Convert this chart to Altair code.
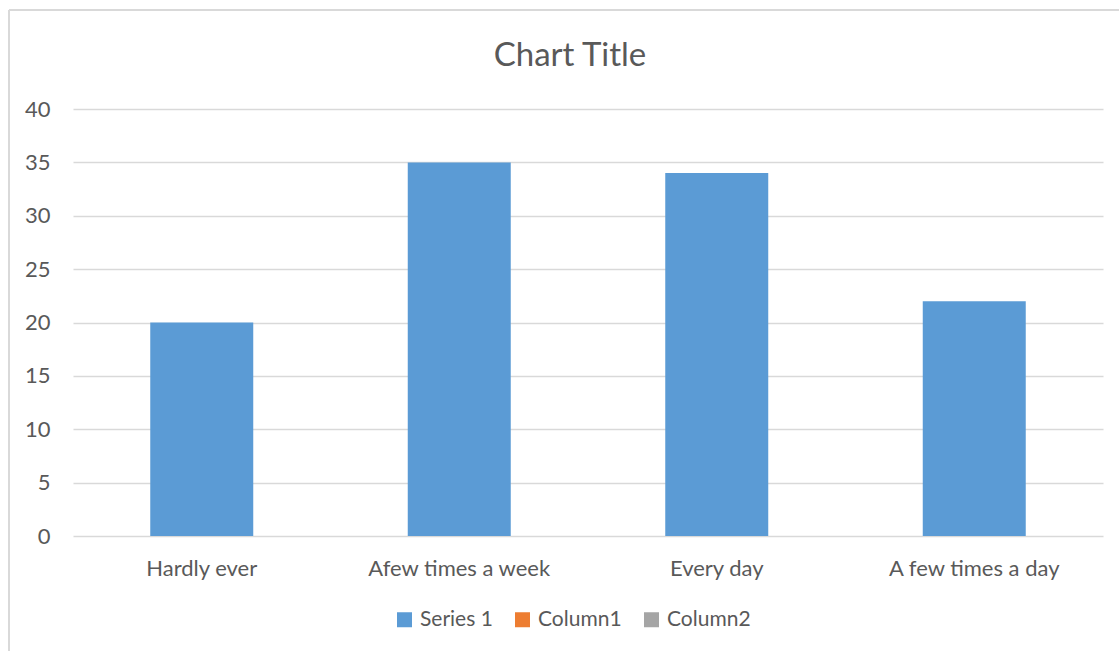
import altair as alt
import pandas as pd

categories = ["Hardly ever", "Afew times a week", "Every day", "A few times a day"]
values = [20, 35, 34, 22]
series_names = ["Series 1", "Column1", "Column2"]
series_colors = ["#5b9bd5", "#ed7d31", "#a5a5a5"]

df = pd.DataFrame({"category": categories, "value": values, "series": ["Series 1"] * len(categories)})

FONT = "Lato"
TXT = "#595959"

bars = alt.Chart(df).mark_bar().encode(
    x=alt.X("category:N", sort=categories, title=None,
            scale=alt.Scale(paddingInner=0.6, paddingOuter=0.3),
            axis=alt.Axis(labelAngle=0, labelFontSize=22, labelColor=TXT, labelFont=FONT,
                          labelLimit=0, domain=False, ticks=False, labelPadding=22, grid=False)),
    y=alt.Y("value:Q", title=None,
            scale=alt.Scale(domain=[0, 40], nice=False),
            axis=alt.Axis(values=[0, 5, 10, 15, 20, 25, 30, 35, 40], labelFontSize=22, labelColor=TXT,
                          labelFont=FONT, domain=False, ticks=False, labelPadding=23,
                          gridColor="#d9d9d9", gridWidth=1.3)),
    color=alt.Color("series:N", title=None,
                    scale=alt.Scale(domain=series_names, range=series_colors),
                    legend=alt.Legend(orient="none", direction="horizontal", legendX=321, legendY=500,
                                      symbolType="square", symbolSize=225, symbolStrokeWidth=0,
                                      labelFontSize=21, labelColor=TXT, labelFont=FONT,
                                      columnPadding=19, symbolOffset=0, labelOffset=5)),
)

border = alt.Chart(pd.DataFrame({"a": [0]})).mark_rule(color="#d9d9d9", strokeWidth=2).encode(
    x=alt.value(-64), x2=alt.value(1046), y=alt.value(-99)
)
border_left = alt.Chart(pd.DataFrame({"a": [0]})).mark_rule(color="#d9d9d9", strokeWidth=2).encode(
    x=alt.value(-64), y=alt.value(-99), y2=alt.value(545)
)

chart = alt.layer(border, border_left, bars).properties(
    width=1030, height=427,
    background="white",
    title=alt.TitleParams("Chart Title", fontSize=33, font=FONT, fontWeight="normal", color=TXT,
                          anchor="middle", dx=-18, dy=90, offset=0, baseline="alphabetic",
                          frame="group"),
    padding={"left": 73, "top": 109, "right": 16, "bottom": 115},
    autosize=alt.AutoSizeParams(type="none"),
).configure_view(strokeWidth=0, stroke="transparent")

chart.save("out.html", embed_options={"renderer": "svg", "actions": False})
